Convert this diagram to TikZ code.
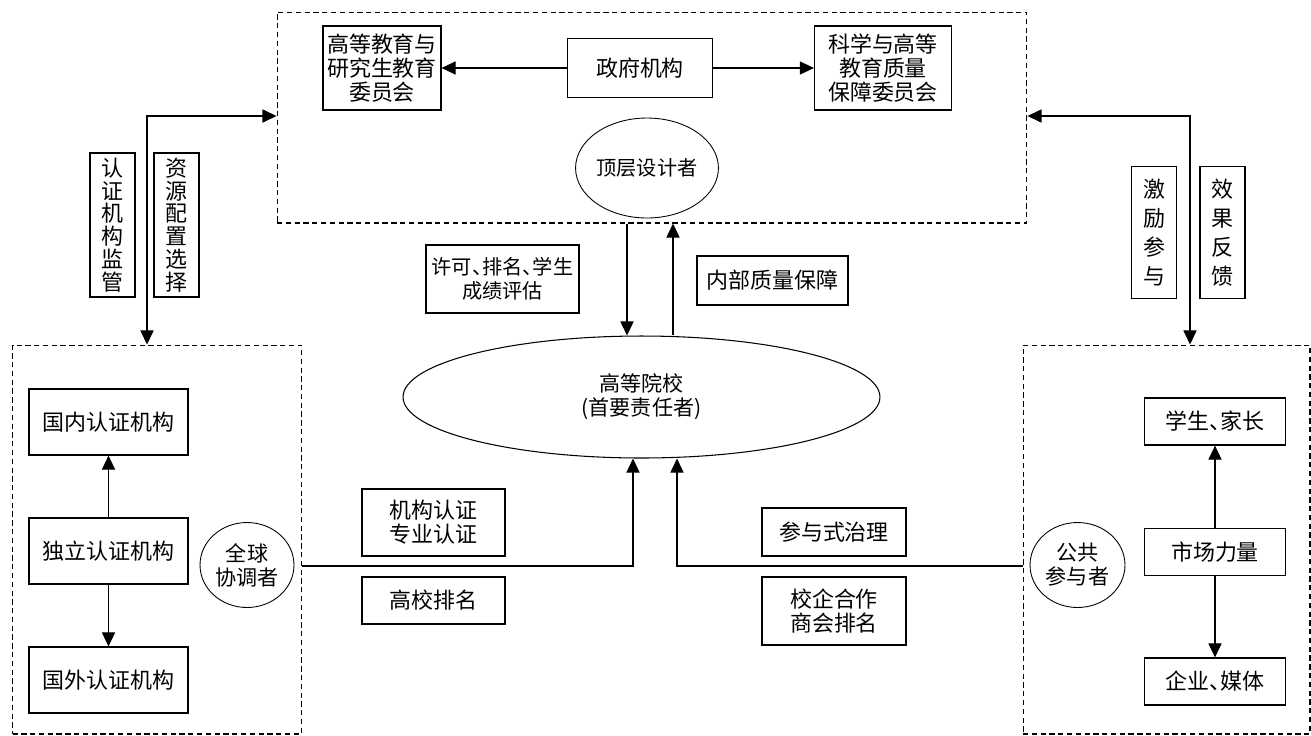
\documentclass[tikz,border=0pt]{standalone}
\usepackage{fontspec}
\usepackage{tikz}
\usetikzlibrary{shapes,arrows.meta,positioning}
\newfontfamily\cjk{Noto Sans CJK SC}
\newcommand{\dun}{\makebox[0.5em][l]{、}}

\begin{document}
\begin{tikzpicture}[x=0.02cm, y=-0.02cm,
  box/.style={draw, line width=0.7pt, align=center, inner sep=2pt,
    font=\cjk\fontsize{12.5}{13.6}\selectfont},
  vbox/.style={box, minimum width=0.9cm, font=\cjk\fontsize{12.5}{13}\selectfont},
  role/.style={draw, ellipse, line width=0.5pt, inner sep=0pt, align=center,
    font=\cjk\fontsize{12}{13.6}\selectfont},
  grp/.style={draw, dashed, dash pattern=on 3pt off 2pt, line width=0.6pt, inner sep=0pt},
  arr/.style={line width=0.6pt, -{Triangle[length=8pt,width=7.5pt]}},
  dbl/.style={line width=0.6pt, {Triangle[length=8pt,width=7.5pt]}-{Triangle[length=8pt,width=7.5pt]}}]
\useasboundingbox (0,0) rectangle (1311,735);

% Dashed groups
\node[grp, minimum width=15cm, minimum height=4.22cm] (top) at (652,117.5) {};
\node[grp, minimum width=5.78cm, minimum height=7.78cm] (left) at (157,539.5) {};
\node[grp, minimum width=5.74cm, minimum height=7.78cm] (right) at (1166.5,539.5) {};

% Top group - government
\node[box, minimum width=2.36cm, minimum height=1.68cm] (gjw) at (382,68) {高等教育与\\研究生教育\\委员会};
\node[box, minimum width=2.9cm, minimum height=1.18cm] (zf) at (640,68) {政府机构};
\node[box, minimum width=2.74cm, minimum height=1.68cm] (kx) at (883,68) {科学与高等\\教育质量\\保障委员会};
\node[role, minimum width=2cm, minimum height=2cm, font=\cjk\fontsize{11.5}{13.6}\selectfont] (dc) at (647,168) {顶层设计者};
\draw[arr] (zf) -- (gjw);
\draw[arr] (zf) -- (kx);

% Left side links
\coordinate (lk) at (147,116);
\draw[dbl] (top.west |- lk) -| (left.north -| lk);
\node[vbox, minimum height=2.88cm] (rz) at (112.5,225) {认\\证\\机\\构\\监\\管};
\node[vbox, minimum height=2.88cm] (zy) at (176.5,225) {资\\源\\配\\置\\选\\择};

% Right side links
\coordinate (rk) at (1190,116);
\draw[dbl] (top.east |- rk) -| (right.north -| rk);
\node[vbox, minimum height=2.64cm, font=\cjk\fontsize{12.5}{16.5}\selectfont] (jl) at (1154,232.5) {激\\励\\参\\与};
\node[vbox, minimum height=2.64cm, font=\cjk\fontsize{12.5}{16.5}\selectfont] (xg) at (1222.5,232.5) {效\\果\\反\\馈};

% Central institution
\node[draw, ellipse, line width=0.6pt, align=center, minimum width=9.54cm, minimum height=2.44cm,
  font=\cjk\fontsize{12}{13.6}\selectfont] (gx) at (641.5,397) {高等院校\\(首要责任者)};
\coordinate (dn) at (627,0);
\coordinate (up) at (673,0);
\draw[arr] (top.south -| dn) -- (gx.north -| dn);
\draw[arr] (gx.north -| up) -- (top.south -| up);
\node[box, minimum width=3.06cm, minimum height=1.36cm, font=\cjk\fontsize{11.5}{13.6}\selectfont] (xk) at (502.5,279) {许可\dun 排名\dun 学生\\成绩评估};
\node[box, minimum width=3.02cm, minimum height=0.98cm] (nb) at (772.5,280.5) {内部质量保障};

% Left group - accreditation
\node[box, minimum width=3.18cm, minimum height=1.32cm] (gn) at (108.5,422) {国内认证机构};
\node[box, minimum width=3.18cm, minimum height=1.32cm] (dl) at (108.5,551) {独立认证机构};
\node[box, minimum width=3.18cm, minimum height=1.32cm] (gw) at (108.5,680) {国外认证机构};
\node[role, minimum width=1.88cm, minimum height=1.7cm] (qq) at (247,565) {全球\\协调者};
\draw[arr] (dl) -- (gn);
\draw[arr] (dl) -- (gw);

% Right group - market
\node[box, minimum width=2.82cm, minimum height=0.94cm] (xs) at (1215,421.5) {学生\dun 家长};
\node[box, minimum width=2.82cm, minimum height=0.94cm] (sc) at (1215,552) {市场力量};
\node[box, minimum width=2.82cm, minimum height=0.94cm] (qy) at (1215,681.5) {企业\dun 媒体};
\node[role, minimum width=1.9cm, minimum height=1.7cm] (gg) at (1077.5,565) {公共\\参与者};
\draw[arr] (sc) -- (xs);
\draw[arr] (sc) -- (qy);

% Bottom links into the institution
\coordinate (bl) at (633,566);
\coordinate (br) at (677,566);
\draw[arr] (left.east |- bl) -| (gx.south -| bl);
\draw[arr] (right.west |- br) -| (gx.south -| br);
\node[box, minimum width=2.86cm, minimum height=1.34cm] (jr) at (433.5,522.5) {机构认证\\专业认证};
\node[box, minimum width=2.86cm, minimum height=0.94cm] (pm) at (433.5,600.5) {高校排名};
\node[box, minimum width=2.88cm, minimum height=0.96cm] (cy) at (834,532) {参与式治理};
\node[box, minimum width=2.88cm, minimum height=1.36cm] (xq) at (834,611) {校企合作\\商会排名};
\end{tikzpicture}
\end{document}
